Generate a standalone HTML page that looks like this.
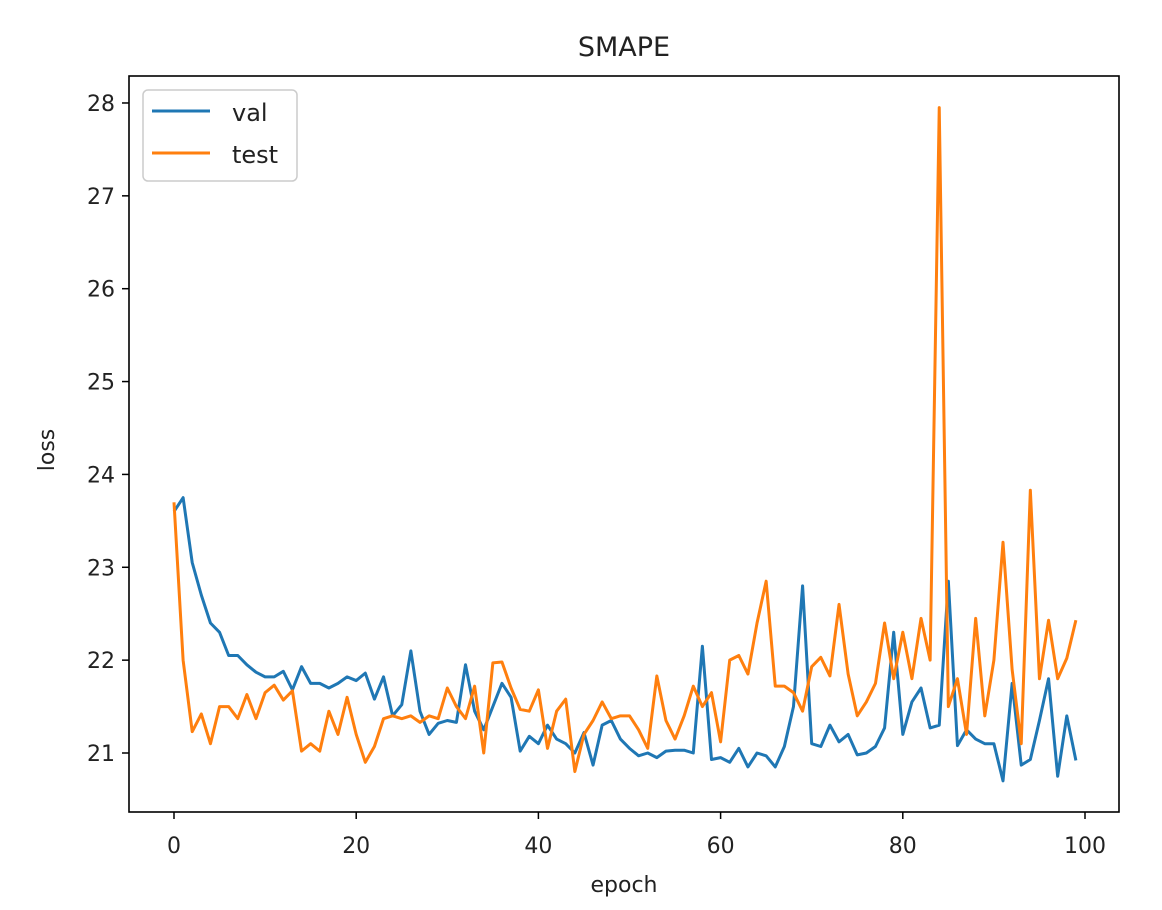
<!DOCTYPE html>
<html><head><meta charset="utf-8"><style>
body{margin:0;background:#fff;}
svg text{font-family:"DejaVu Sans","Liberation Sans",sans-serif;fill:#222;}
</style></head><body>
<svg id="chart" width="1162" height="905" viewBox="0 0 1162 905">
<rect width="1162" height="905" fill="#fff"/>
<text x="624" y="56" font-size="27" text-anchor="middle">SMAPE</text>
<g id="ticks"></g>
<g id="lines"></g>
<rect x="129" y="76" width="990" height="736" fill="none" stroke="#000" stroke-width="1.6"/>
<text x="624" y="892" font-size="22" text-anchor="middle">epoch</text>
<text x="0" y="0" font-size="22" text-anchor="middle" transform="translate(54,450) rotate(-90)">loss</text>
<g>
<rect x="143" y="90" width="154" height="91" rx="5" fill="#fff" stroke="#ccc" stroke-width="1.5"/>
<g><line x1="152" y1="111" x2="210" y2="111" stroke="#1f77b4" stroke-width="3"/><text x="232" y="121" font-size="24">val</text></g>
<g><line x1="152" y1="153" x2="210" y2="153" stroke="#ff7f0e" stroke-width="3"/><text x="232" y="163" font-size="24">test</text></g>
</g>
</svg>
<script>
const valSeries=[23.6,23.75,23.05,22.7,22.4,22.3,22.05,22.05,21.95,21.87,21.82,21.82,21.88,21.68,21.93,21.75,21.75,21.7,21.75,21.82,21.78,21.86,21.58,21.82,21.4,21.52,22.1,21.45,21.2,21.32,21.35,21.33,21.95,21.45,21.25,21.5,21.75,21.6,21.02,21.18,21.1,21.3,21.15,21.1,21.0,21.22,20.87,21.3,21.35,21.15,21.05,20.97,21.0,20.95,21.02,21.03,21.03,21.0,22.15,20.93,20.95,20.9,21.05,20.85,21.0,20.97,20.85,21.07,21.5,22.8,21.1,21.07,21.3,21.12,21.2,20.98,21.0,21.07,21.27,22.3,21.2,21.55,21.7,21.27,21.3,22.85,21.08,21.25,21.15,21.1,21.1,20.7,21.75,20.87,20.93,21.35,21.8,20.75,21.4,20.92];
const testSeries=[23.7,22.0,21.23,21.42,21.1,21.5,21.5,21.37,21.63,21.37,21.65,21.73,21.57,21.67,21.02,21.1,21.02,21.45,21.2,21.6,21.2,20.9,21.07,21.37,21.4,21.37,21.4,21.33,21.4,21.37,21.7,21.5,21.37,21.72,21.0,21.97,21.98,21.7,21.47,21.45,21.68,21.05,21.45,21.58,20.8,21.2,21.35,21.55,21.37,21.4,21.4,21.25,21.05,21.83,21.35,21.15,21.4,21.72,21.5,21.65,21.12,22.0,22.05,21.85,22.4,22.85,21.72,21.72,21.65,21.45,21.93,22.03,21.83,22.6,21.85,21.4,21.55,21.75,22.4,21.8,22.3,21.8,22.45,22.0,27.95,21.5,21.8,21.2,22.45,21.4,22.0,23.27,21.9,21.1,23.83,21.8,22.43,21.8,22.02,22.43];
const xTicks=[0,20,40,60,80,100];
const yTicks=[21,22,23,24,25,26,27,28];
const NS="http://www.w3.org/2000/svg";
function xs(v){return 174+v*9.11;}
function ys(v){return 753-(v-21)*92.86;}
const tg=document.getElementById('ticks');
xTicks.forEach(t=>{
  const l=document.createElementNS(NS,'line');
  l.setAttribute('x1',xs(t));l.setAttribute('x2',xs(t));l.setAttribute('y1',812);l.setAttribute('y2',819);
  l.setAttribute('stroke','#000');l.setAttribute('stroke-width','1.5');
  
  
  tg.appendChild(l);
  const tx=document.createElementNS(NS,'text');
  tx.setAttribute('x',xs(t));tx.setAttribute('y',853);tx.setAttribute('font-size','22');tx.setAttribute('text-anchor','middle');
  tx.textContent=t;
  
  
  tg.appendChild(tx);
});
yTicks.forEach(t=>{
  const l=document.createElementNS(NS,'line');
  l.setAttribute('x1',122);l.setAttribute('x2',129);l.setAttribute('y1',ys(t));l.setAttribute('y2',ys(t));
  l.setAttribute('stroke','#000');l.setAttribute('stroke-width','1.5');
  
  
  tg.appendChild(l);
  const tx=document.createElementNS(NS,'text');
  tx.setAttribute('x',115);tx.setAttribute('y',ys(t)+8);tx.setAttribute('font-size','22');tx.setAttribute('text-anchor','end');
  tx.textContent=t;
  
  
  tg.appendChild(tx);
});
const lg=document.getElementById('lines');
function draw(arr,color,name){
  const p=document.createElementNS(NS,'polyline');
  p.setAttribute('points',arr.map((v,i)=>xs(i)+','+ys(v)).join(' '));
  p.setAttribute('fill','none');p.setAttribute('stroke',color);p.setAttribute('stroke-width','3');p.setAttribute('stroke-linejoin','round');
  
  
  lg.appendChild(p);
}
draw(valSeries,'#1f77b4','val-line');
draw(testSeries,'#ff7f0e','test-line');
</script>
</body></html>
